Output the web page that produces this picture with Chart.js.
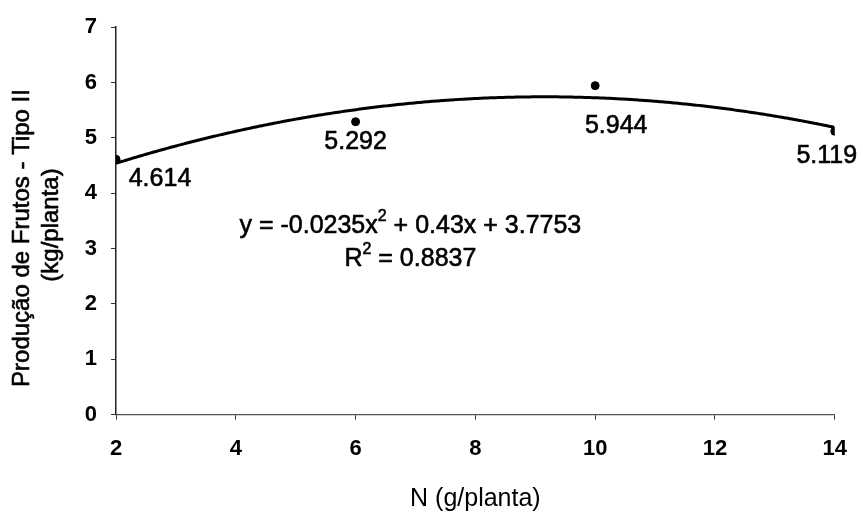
<!DOCTYPE html>
<html>
<head>
<meta charset="utf-8">
<script src="https://cdn.jsdelivr.net/npm/chart.js@4.4.1/dist/chart.umd.min.js"></script>
<style>
  html, body { margin: 0; padding: 0; background: #fff; }
  #wrap { width: 863px; height: 514px; position: relative; }
</style>
</head>
<body>
<div id="wrap"><canvas id="chart"></canvas></div>
<script>
// N dose (g/planta) and type II fruit yield (kg/planta)
const doses = [2, 6, 10, 14];
const yields = [4.614, 5.292, 5.944, 5.119];

// quadratic fit: a*x^2 + b*x + c
const fitCoeffs = [-0.0235, 0.43, 3.7753];
const rSquared = 0.8837;

const xTicks = [2, 4, 6, 8, 10, 12, 14];
const yTicks = [0, 1, 2, 3, 4, 5, 6, 7];

const yTitleLines = ['Produção de Frutos - Tipo II', '(kg/planta)'];

// label placement relative to each point, px
const labelOffsets = [[44, 20], [0, 20], [21, 40], [-8, 25]];

const FONT = "'Liberation Sans', Arial, sans-serif";

// heavier text, like the printed figure
function heavyText(ctx, t, x, y) {
  ctx.fillText(t, x, y);
  ctx.strokeText(t, x, y);
}

const fitCurve = {
  id: 'fitCurve',
  afterDatasetsDraw(chart) {
    const { ctx, scales: { x, y } } = chart;
    const [a, b, c] = fitCoeffs;
    const p0 = x.getPixelForValue(doses[0]);
    const p1 = x.getPixelForValue(doses[doses.length - 1]);
    ctx.save();
    ctx.strokeStyle = '#000';
    ctx.lineWidth = 3;
    ctx.lineJoin = 'round';
    ctx.beginPath();
    for (let px = p0; px <= p1 + 0.5; px += 2) {
      const xv = x.getValueForPixel(px);
      const py = y.getPixelForValue(a * xv * xv + b * xv + c);
      if (px === p0) ctx.moveTo(px, py); else ctx.lineTo(px, py);
    }
    ctx.stroke();

    ctx.fillStyle = '#000';
    ctx.lineWidth = 0.6;
    ctx.textBaseline = 'middle';

    // point value labels
    ctx.font = '25px ' + FONT;
    ctx.textAlign = 'center';
    doses.forEach((d, i) => {
      const px = x.getPixelForValue(d), py = y.getPixelForValue(yields[i]);
      heavyText(ctx, yields[i].toFixed(3), px + labelOffsets[i][0], py + labelOffsets[i][1]);
    });

    // equation and R²
    const cx = (x.left + x.right) / 2 - 65;
    drawSup(ctx, [['y = ' + a + 'x', false], ['2', true], [' + ' + b + 'x + ' + c, false]], cx, 226);
    drawSup(ctx, [['R', false], ['2', true], [' = ' + rSquared, false]], cx, 259);

    // two-line y axis title
    ctx.textAlign = 'center';
    ctx.font = '24px ' + FONT;
    [[22, 238], [51, 225]].forEach(([tx, ty], i) => {
      ctx.save();
      ctx.translate(tx, ty);
      ctx.rotate(-Math.PI / 2);
      heavyText(ctx, yTitleLines[i], 0, 0);
      ctx.restore();
    });
    ctx.restore();
  }
};

// draws a line of text with superscript pieces, centered on cx
function drawSup(ctx, parts, cx, cy) {
  const big = '25px ' + FONT, small = '16px ' + FONT;
  let w = 0;
  parts.forEach(([t, sup]) => { ctx.font = sup ? small : big; w += ctx.measureText(t).width; });
  let px = cx - w / 2;
  ctx.textAlign = 'left';
  parts.forEach(([t, sup]) => {
    ctx.font = sup ? small : big;
    heavyText(ctx, t, px, sup ? cy - 9 : cy);
    px += ctx.measureText(t).width;
  });
}

new Chart(document.getElementById('chart'), {
  type: 'scatter',
  data: {
    datasets: [{
      data: doses.map((d, i) => ({ x: d, y: yields[i] })),
      backgroundColor: '#000',
      borderColor: '#000',
      pointRadius: 4,
      pointHoverRadius: 4
    }]
  },
  options: {
    responsive: true,
    maintainAspectRatio: false,
    animation: false,
    layout: { padding: { left: 0, right: 25, top: 2, bottom: 0 } },
    plugins: { legend: { display: false }, tooltip: { enabled: false } },
    scales: {
      x: {
        type: 'linear',
        min: 2,
        max: 14,
        afterBuildTicks: s => { s.ticks = xTicks.map(v => ({ value: v })); },
        ticks: { color: '#000', font: { family: FONT, size: 22, weight: 'bold' }, padding: 16 },
        grid: { drawOnChartArea: false, drawTicks: true, tickLength: 5, color: '#333' },
        border: { display: true, color: '#555', width: 1.2, dash: [3, 4] },
        title: {
          display: true, text: 'N (g/planta)', color: '#000',
          font: { family: FONT, size: 25 }, padding: { top: 6, bottom: 0 }
        }
      },
      y: {
        min: 0,
        max: 7,
        afterBuildTicks: s => { s.ticks = yTicks.map(v => ({ value: v })); },
        afterFit: s => { s.width = 116; },
        ticks: { color: '#000', font: { family: FONT, size: 22, weight: 'bold' }, padding: 14 },
        grid: { drawOnChartArea: false, drawTicks: true, tickLength: 5, color: '#333' },
        border: { display: true, color: '#222', width: 1.5, dash: [10, 2] }
      }
    }
  },
  plugins: [fitCurve]
});
</script>
</body>
</html>
